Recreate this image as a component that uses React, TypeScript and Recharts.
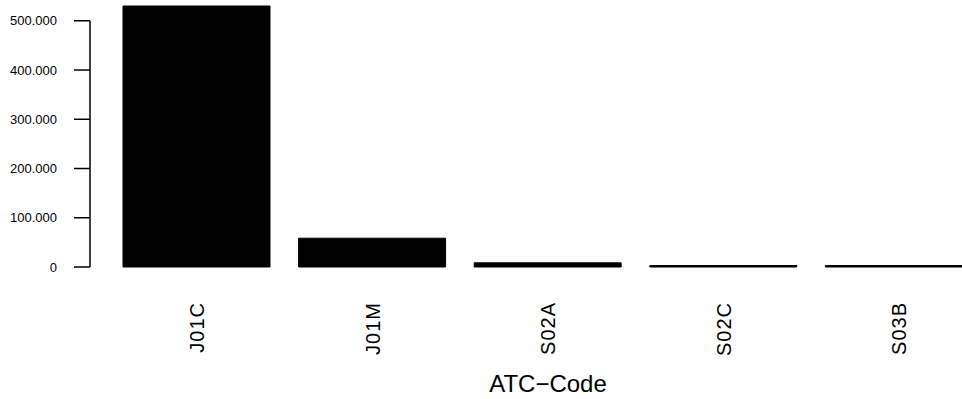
import { BarChart, Bar, XAxis, YAxis, ReferenceLine, Label } from 'recharts'

const codes = ['J01C', 'J01M', 'S02A', 'S02C', 'S03B']
const counts = [530000, 58500, 8500, 3000, 3000]
const yTicks = [0, 100000, 200000, 300000, 400000, 500000]

const data = codes.map((code, i) => ({ code, count: counts[i] }))

const FONT = '"Liberation Sans", Arial, Helvetica, sans-serif'

// 500000 -> "500.000"
const fmt = (v: number) => String(v).replace(/\B(?=(\d{3})+(?!\d))/g, '.')

const CodeTick = (props: any) => {
  const { x, y, payload } = props
  return (
    <g transform={`translate(${x},${y + 35})`}>
      <text
        transform="rotate(-90)"
        textAnchor="end"
        dy="0.36em"
        fontSize={20}
        letterSpacing={1}
        fontFamily={FONT}
        fill="#000"
      >
        {payload.value}
      </text>
    </g>
  )
}

export default function App() {
  return (
    <div
      style={{
        position: 'absolute',
        left: 0,
        top: 0,
        width: 962,
        height: 399,
        overflow: 'hidden',
        background: '#fff',
      }}
    >
      <BarChart
        width={987}
        height={399}
        data={data}
        margin={{ top: 6, right: 0, left: 0, bottom: 0 }}
        barSize={147}
      >
        <XAxis
          dataKey="code"
          height={132}
          interval={0}
          axisLine={false}
          tickLine={false}
          tickSize={0}
          tickMargin={0}
          padding={{ left: 19, right: 0 }}
          tick={<CodeTick />}
        >
          <Label
            value="ATC−Code"
            position="insideBottom"
            offset={7}
            dx={9.5}
            fontSize={24}
            fontFamily={FONT}
            fill="#000"
          />
        </XAxis>
        {/* helper axis so the y axis line can stop at the last tick */}
        <XAxis xAxisId="line" type="number" domain={[0, 1]} allowDataOverflow hide />
        <YAxis
          width={90}
          domain={[0, 'dataMax']}
          ticks={yTicks}
          tickFormatter={fmt}
          axisLine={false}
          tickSize={16}
          tickMargin={17}
          tickLine={{ stroke: '#000', strokeWidth: 1.5 }}
          tick={{ fontSize: 13, fill: '#000', fontFamily: FONT }}
        />
        <ReferenceLine
          xAxisId="line"
          segment={[
            { x: 0, y: yTicks[0] },
            { x: 0, y: yTicks[yTicks.length - 1] },
          ]}
          stroke="#000"
          strokeWidth={1.5}
        />
        <Bar dataKey="count" fill="#000" stroke="#000" strokeWidth={1} isAnimationActive={false} />
      </BarChart>
    </div>
  )
}
